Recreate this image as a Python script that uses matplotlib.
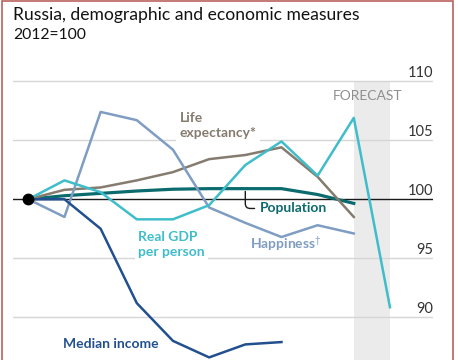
import matplotlib
matplotlib.use("Agg")
import matplotlib.pyplot as plt
from matplotlib.patches import Rectangle

plt.rcParams['font.family'] = ['Lato', 'DejaVu Sans']
plt.rcParams['mathtext.fontset'] = 'custom'
plt.rcParams['mathtext.rm'] = 'Lato'

# data (2012=100)
years = [2012, 2013, 2014, 2015, 2016, 2017, 2018, 2019, 2020, 2021, 2022]
happiness = [100, 98.5, 107.4, 106.7, 104.2, 99.3, 98.0, 96.8, 97.8, 97.1]
life_expectancy = [100, 100.8, 101.0, 101.6, 102.3, 103.4, 103.75, 104.4, 101.9, 98.5]
population = [100, 100.3, 100.5, 100.7, 100.85, 100.9, 100.9, 100.9, 100.4, 99.65]
gdp_per_person = [100, 101.6, 100.6, 98.3, 98.3, 99.5, 102.9, 104.9, 102.0, 106.9, 90.85]
median_income = [100, 100, 97.5, 91.2, 88.0, 86.6, 87.7, 87.9]

forecast_span = [2021, 2022]
grid_values = [85, 90, 95, 105, 110]
tick_values = [85, 90, 95, 100, 105, 110]

# colours
C_HAPPY = '#7f9dc2'
C_LIFE = '#857b6e'
C_POP = '#0c6b6e'
C_GDP = '#3fbdca'
C_INC = '#22508f'

fig = plt.figure(figsize=(4.58, 3.6), dpi=100)
ax = fig.add_axes([13 / 458, 0, 420 / 458, 300 / 360])
ax.set_xlim(2011.577, 2023.19)
ax.set_ylim(86.38, 111.8)
ax.axis('off')

# forecast band
ax.fill_between(forecast_span, 80, 110, color='#ebebeb', lw=0, zorder=0.5)
ax.text(2021.39, 108.75, 'FORECAST', color='#8f8f8f', fontsize=10,
        ha='center', va='center', zorder=1)

# gridlines + labels (85 is cut by the bottom edge, as in the original)
for v in grid_values:
    ax.axhline(v, color='#d6d6d6', lw=1, zorder=1)
ax.axhline(100, color='#1a1a1a', lw=1, zorder=1.5)
for v in tick_values:
    ax.annotate(str(v), xy=(1, v), xycoords=('axes fraction', 'data'),
                xytext=(0, 3), textcoords='offset points',
                ha='right', va='baseline', fontsize=10.5, color='#333333')

# series
ax.plot(years[:len(population)], population, color=C_POP, lw=2.3, zorder=2.0)
ax.plot(years[:len(life_expectancy)], life_expectancy, color=C_LIFE, lw=1.8, zorder=2.1)
ax.plot(years[:len(happiness)], happiness, color=C_HAPPY, lw=1.8, zorder=2.2)
ax.plot(years[:len(gdp_per_person)], gdp_per_person, color=C_GDP, lw=1.8, zorder=2.3)
ax.plot(years[:len(median_income)], median_income, color=C_INC, lw=1.8, zorder=2.4)
ax.plot([years[0]], [100], 'o', color='black', ms=7.5, zorder=5)

# labels
box = dict(boxstyle='square,pad=0.25', fc='white', ec='none')
ax.text(2016.19, 106.25, 'Life\nexpectancy*', color=C_LIFE, fontsize=10,
        ha='left', va='center', linespacing=1.3, fontweight='bold', bbox=box, zorder=1.8)
ax.text(2015.04, 96.13, 'Real GDP\nper person', color=C_GDP, fontsize=10,
        ha='left', va='center', linespacing=1.3, fontweight='bold', bbox=box, zorder=1.8)
ax.text(2018.13, 96.25, r'Happiness$^{\dagger}$', color=C_HAPPY, fontsize=10,
        ha='left', va='center', fontweight='bold', bbox=box, zorder=1.8)
ax.text(2012.96, 87.74, 'Median income', color=C_INC, fontsize=10,
        ha='left', va='center', fontweight='bold', zorder=1.8)
ax.annotate('Population', xy=(2018, 100.9), xytext=(2018.41, 99.22),
            color=C_POP, fontsize=10, ha='left', va='center', fontweight='bold',
            arrowprops=dict(arrowstyle='-', color='#1a1a1a', lw=1,
                            connectionstyle='angle,angleA=0,angleB=90,rad=5',
                            relpos=(0, 0.5), shrinkA=2, shrinkB=2),
            zorder=1.8)

# title
fig.text(13 / 458, 1 - 15 / 360, 'Russia, demographic and economic measures',
         fontsize=12.6, color='#121212', ha='left', va='center')
fig.text(13 / 458, 1 - 35 / 360, '2012=100', fontsize=11.3, color='#121212',
         ha='left', va='center')

# frame
fig.add_artist(Rectangle((1.5 / 458, -0.05), 451 / 458, 1.05 - 0.5 / 360,
                         transform=fig.transFigure, fill=False,
                         edgecolor='#b4534f', lw=1.1, clip_on=False))

fig.savefig('out.png', dpi=100)
